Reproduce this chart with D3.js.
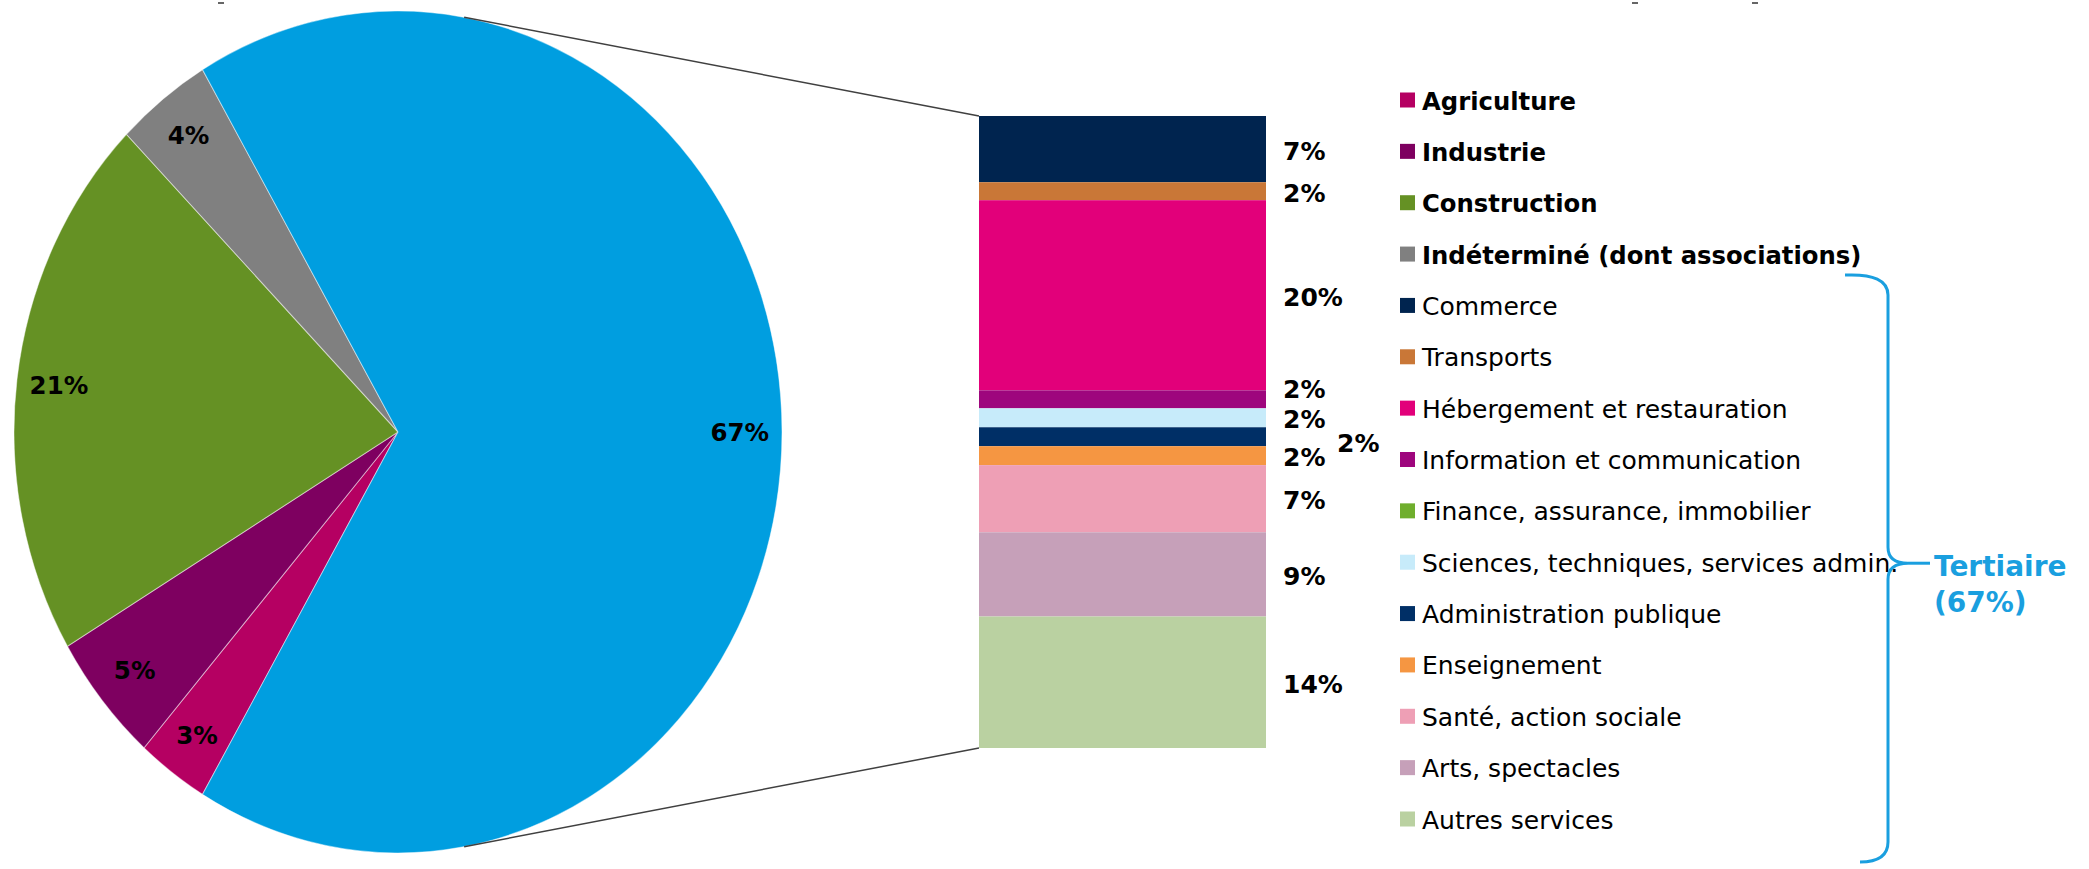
<!DOCTYPE html>
<html>
<head>
<meta charset="utf-8">
<script src="https://cdn.jsdelivr.net/npm/d3@7"></script>
<style>
  html, body { margin: 0; padding: 0; background: #fff; }
  svg { display: block; font-family: "DejaVu Sans", Verdana, sans-serif; }
</style>
</head>
<body>
<svg id="chart" width="2089" height="869"></svg>
<script>
// ---- Data ----
const pieCategories = ["Agriculture", "Industrie", "Construction", "Indéterminé (dont associations)", "Tertiaire"];
const pieValues = [3, 5, 21, 4, 67];
const pieLabels = ["3%", "5%", "21%", "4%", "67%"];
const pieColors = ["#B50062", "#7E0060", "#659124", "#808080", "#009EE0"];

const barCategories = ["Commerce", "Transports", "Hébergement et restauration", "Information et communication",
  "Finance, assurance, immobilier", "Sciences, techniques, services admin.", "Administration publique",
  "Enseignement", "Santé, action sociale", "Arts, spectacles", "Autres services"];
const barValues = [7, 1.9, 20.1, 1.9, 0, 2, 2, 2, 7.1, 8.9, 13.9];
const barLabels = ["7%", "2%", "20%", "2%", "", "2%", "2%", "2%", "7%", "9%", "14%"];
const barColors = ["#00244F", "#C97737", "#E2007A", "#9E067D", "#6FAE2D", "#C7EBFA", "#002F66",
  "#F59642", "#EE9FB5", "#C6A0B9", "#BAD1A1"];

const groupLabel = ["Tertiaire", "(67%)"];

// ---- Layout ----
const svg = d3.select("#chart");
svg.append("rect").attr("width", 2089).attr("height", 869).attr("fill", "#fff");

// small stray marks along the top edge of the original picture
svg.append("g").selectAll("rect").data([218, 1632, 1752]).join("rect")
  .attr("x", d => d).attr("y", 2).attr("width", 6).attr("height", 2).attr("fill", "#666");

const cx = 398, cy = 432, rx = 384, ry = 421;
const sy = ry / rx;

// Pie (elliptical): Tertiaire centred on the right side
const tertShare = pieValues[4] / d3.sum(pieValues);
const start = Math.PI / 2 + tertShare * Math.PI;
const pie = d3.pie().sort(null).startAngle(start).endAngle(start + 2 * Math.PI);
const arcs = pie(pieValues);
const arc = d3.arc().innerRadius(0).outerRadius(rx);
const gPie = svg.append("g").attr("transform", `translate(${cx},${cy}) scale(1,${sy})`);
gPie.selectAll("path").data(arcs).join("path")
  .attr("d", arc)
  .attr("fill", (d, i) => pieColors[i])
  .attr("stroke", "rgba(255,255,255,0.45)")
  .attr("stroke-width", 1);

const labelArc = d3.arc().innerRadius(rx * 0.89).outerRadius(rx * 0.89);
svg.append("g").selectAll("text").data(arcs).join("text")
  .attr("x", d => cx + labelArc.centroid(d)[0])
  .attr("y", d => cy + labelArc.centroid(d)[1] * sy)
  .attr("text-anchor", "middle")
  .attr("dominant-baseline", "central")
  .attr("font-size", 24.5)
  .attr("font-weight", "bold")
  .attr("fill", "#000")
  .text((d, i) => pieLabels[i]);

// Stacked bar
const x = d3.scaleBand().domain(["Tertiaire"]).range([979, 1266]).padding(0);
const y = d3.scaleLinear().domain([0, d3.sum(barValues)]).range([116, 748]);
const cum = d3.cumsum(barValues);
const segs = barValues.map((v, i) => ({ i, v, y0: cum[i] - v, y1: cum[i] }));
const gBar = svg.append("g");
gBar.selectAll("rect").data(segs).join("rect")
  .attr("x", x("Tertiaire"))
  .attr("width", x.bandwidth())
  .attr("y", d => y(d.y0))
  .attr("height", d => y(d.y1) - y(d.y0))
  .attr("fill", d => barColors[d.i]);

// bar labels with small nudges to avoid overlaps between thin segments
function nudge(name) {
  if (name === "Information et communication") return [0, -12];
  if (name === "Administration publique") return [54, 5];
  return [0, 0];
}
gBar.selectAll("text").data(segs.filter(d => barLabels[d.i] !== "")).join("text")
  .attr("x", d => x("Tertiaire") + x.bandwidth() + 17 + nudge(barCategories[d.i])[0])
  .attr("y", d => (y(d.y0) + y(d.y1)) / 2 + 2 + nudge(barCategories[d.i])[1])
  .attr("dominant-baseline", "central")
  .attr("font-size", 25)
  .attr("font-weight", "bold")
  .attr("fill", "#000")
  .text(d => barLabels[d.i]);

// Connector lines tangent to the ellipse
function tangentPoint(px, py, sign) {
  const u = (px - cx) / rx, v = (py - cy) / ry;
  const r = Math.hypot(u, v);
  const a = Math.atan2(v, u) + sign * Math.acos(1 / r);
  return [cx + rx * Math.cos(a), cy + ry * Math.sin(a)];
}
const barTop = y.range()[0], barBot = y.range()[1], barLeft = x.range()[0];
const t1 = tangentPoint(barLeft, barTop, -1);
const t2 = tangentPoint(barLeft, barBot, 1);
svg.append("line").attr("x1", t1[0]).attr("y1", t1[1]).attr("x2", barLeft).attr("y2", barTop)
  .attr("stroke", "#404040").attr("stroke-width", 1.5);
svg.append("line").attr("x1", t2[0]).attr("y1", t2[1]).attr("x2", barLeft).attr("y2", barBot)
  .attr("stroke", "#404040").attr("stroke-width", 1.5);

// Legend
const legendItems = pieCategories.slice(0, 4).map((c, i) => ({ name: c, color: pieColors[i], bold: true }))
  .concat(barCategories.map((c, i) => ({ name: c, color: barColors[i], bold: false })));
const ly = d3.scalePoint().domain(legendItems.map(d => d.name)).range([100, 819]);
const gLeg = svg.append("g");
const li = gLeg.selectAll("g").data(legendItems).join("g")
  .attr("transform", d => `translate(1400,${ly(d.name)})`);
li.append("rect").attr("x", 0).attr("y", -7.5).attr("width", 15).attr("height", 15).attr("fill", d => d.color);
li.append("text").attr("x", 22).attr("y", 1)
  .attr("dominant-baseline", "central")
  .attr("font-size", d => d.bold ? 24.3 : 25)
  .attr("font-weight", d => d.bold ? "bold" : "normal")
  .attr("fill", "#000")
  .text(d => d.name);

// Brace for Tertiaire group
const braceColor = "#1A9FDF";
const bTop = ly(legendItems[3].name) + 21, bBot = 862, bX = 1888;
const bMid = ly("Sciences, techniques, services admin.") + 1;
svg.append("path")
  .attr("d", `M1845,${bTop} Q${bX},${bTop - 2} ${bX},${bTop + 20} L${bX},${bMid - 16} Q${bX},${bMid} ${bX + 20},${bMid} Q${bX},${bMid} ${bX},${bMid + 16} L${bX},${bBot - 20} Q${bX},${bBot} ${bX - 28},${bBot}`)
  .attr("fill", "none").attr("stroke", braceColor).attr("stroke-width", 3);
svg.append("line").attr("x1", bX + 20).attr("y1", bMid).attr("x2", bX + 42).attr("y2", bMid)
  .attr("stroke", braceColor).attr("stroke-width", 3);
svg.append("g").selectAll("text").data(groupLabel).join("text")
  .attr("x", 1934)
  .attr("y", (d, i) => bMid + 3 + i * 36)
  .attr("dominant-baseline", "central")
  .attr("font-size", 28)
  .attr("font-weight", "bold")
  .attr("fill", braceColor)
  .text(d => d);
</script>
</body>
</html>
